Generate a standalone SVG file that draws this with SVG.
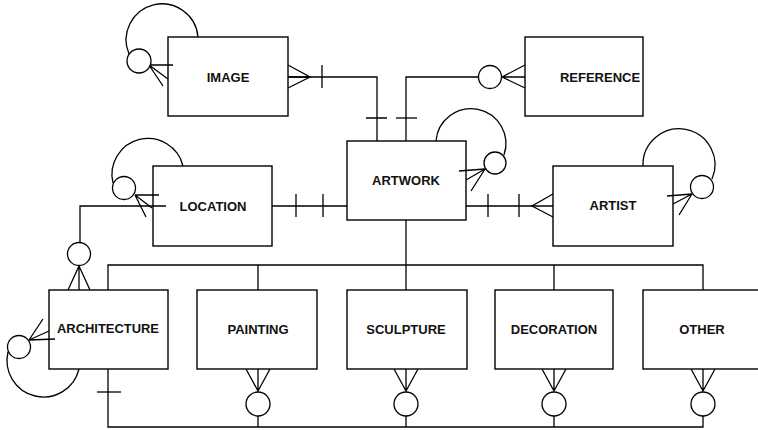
<svg xmlns="http://www.w3.org/2000/svg" width="758" height="430" viewBox="0 0 758 430">
<style>
.b{fill:#fff;stroke:#000;stroke-width:1.4}
.l{fill:none;stroke:#000;stroke-width:1.3}
.c{fill:#fff;stroke:#000;stroke-width:1.3}
text{font-family:"Liberation Sans",Arial,sans-serif;font-size:13px;font-weight:bold;text-anchor:middle;fill:#111}
</style>
<rect width="758" height="430" fill="#fff"/>
<g id="image"><rect class="b" x="168" y="37" width="120" height="79"/><text x="228" y="82">IMAGE</text></g>
<g id="reference"><rect class="b" x="525" y="37" width="118" height="79"/><text x="600" y="82">REFERENCE</text></g>
<g id="artwork"><rect class="b" x="347" y="141" width="119" height="79"/><text x="406" y="185">ARTWORK</text></g>
<g id="location"><rect class="b" x="153" y="166" width="119" height="80"/><text x="213" y="211">LOCATION</text></g>
<g id="artist"><rect class="b" x="553" y="166" width="120" height="80"/><text x="613" y="210">ARTIST</text></g>
<g id="architecture"><rect class="b" x="49" y="290" width="119" height="79"/><text x="108" y="333" textLength="102" lengthAdjust="spacingAndGlyphs">ARCHITECTURE</text></g>
<g id="painting"><rect class="b" x="197" y="290" width="120" height="79"/><text x="258" y="334">PAINTING</text></g>
<g id="sculpture"><rect class="b" x="347" y="290" width="120" height="79"/><text x="406" y="334">SCULPTURE</text></g>
<g id="decoration"><rect class="b" x="495" y="290" width="118" height="79"/><text x="554" y="334">DECORATION</text></g>
<g id="other"><rect class="b" x="643" y="290" width="125" height="79"/><text x="702" y="334">OTHER</text></g>
<g id="connectors" class="l">
<path d="M288,77 H377 V141"/>
<path d="M288,65 L310,77 L288,88 M288,77 H310"/>
<path d="M322,65 V88 M366,118 H387"/>
<path d="M406,141 V77 H479"/>
<path d="M502,77 L525,65 M502,77 L525,88 M502,77 H525"/>
<path d="M396,118 H417"/>
<path d="M272,206 H347"/>
<path d="M296,194 V217 M323,194 V217"/>
<path d="M466,206 H553"/>
<path d="M488,194 V217 M519,194 V217"/>
<path d="M553,194 L532,206 L553,217"/>
<path d="M166,206 H80 V242"/>
<path d="M79,266 L68,290 M79,266 L90,290 M79,266 V290"/>
<path d="M406,220 V290"/>
<path d="M108,290 V265 H703 V290"/>
<path d="M258,265 V290 M554,265 V290"/>
<path d="M108,369 V427 H703 V415"/>
<path d="M97,392 H121"/>
<path d="M258,416 V427 M406,416 V427 M554,416 V427"/>
<path d="M246,369 L258,391 L270,369 M258,369 V391"/>
<path d="M394,369 L406,391 L418,369 M406,369 V391"/>
<path d="M542,369 L554,391 L566,369 M554,369 V391"/>
<path d="M691,369 L703,391 L715,369 M703,369 V391"/>
<path d="M198,37 A36,36 0 1,0 129,54"/>
<path d="M149,65 L173,65 M149,65 L168,79 M149,65 L163,86"/>
<path d="M183,166 A36,36 0 1,0 113,183"/>
<path d="M135,195 L159,195 M135,195 L152,208 M135,195 L146,217"/>
<path d="M436,141 A35,35 0 1,1 504,155"/>
<path d="M485,169 L459,171 M485,169 L466,180 M485,169 L471,191"/>
<path d="M643,166 A36,36 0 1,1 712,179"/>
<path d="M692,194 L667,196 M692,194 L673,204 M692,194 L679,215"/>
<path d="M79,369 A36,36 0 1,1 8,352"/>
<path d="M29,340 L43,319 M29,340 L49,331 M29,340 L55,339"/>
</g>
<g id="circles">
<circle class="c" cx="139" cy="61" r="12"/>
<circle class="c" cx="490" cy="77" r="11.5"/>
<circle class="c" cx="124" cy="188" r="11.5"/>
<circle class="c" cx="495" cy="163" r="11"/>
<circle class="c" cx="702" cy="187" r="11.5"/>
<circle class="c" cx="79" cy="254" r="11.5"/>
<circle class="c" cx="19" cy="347" r="11.5"/>
<circle class="c" cx="258" cy="404" r="12"/>
<circle class="c" cx="406" cy="404" r="12"/>
<circle class="c" cx="554" cy="404" r="12"/>
<circle class="c" cx="703" cy="404" r="12"/>
</g>
</svg>
